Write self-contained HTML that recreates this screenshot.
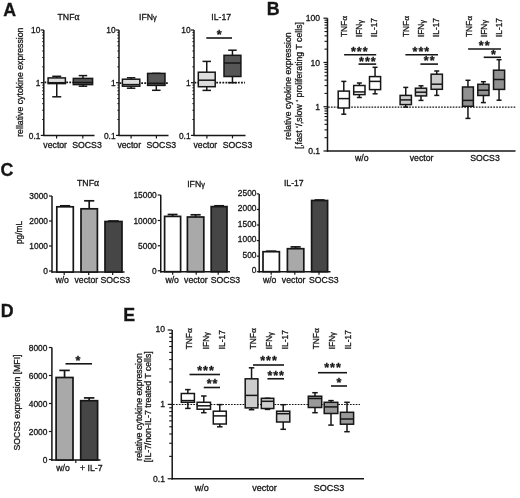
<!DOCTYPE html>
<html><head><meta charset="utf-8"><style>
html,body{margin:0;padding:0;background:#fff;}
svg{display:block;will-change:transform;}
text{font-family:"Liberation Sans",sans-serif;stroke:#161616;stroke-width:0.3px;}
</style></head><body>
<svg width="520" height="498" viewBox="0 0 520 498">
<rect width="520" height="498" fill="#fff"/>
<text x="3.3" y="15.5" font-size="17.8" text-anchor="start" font-weight="bold" fill="#161616" stroke="#161616" stroke-width="0.35">A</text>
<text x="68.5" y="19.7" font-size="8.7" text-anchor="middle" fill="#161616">TNF<tspan font-family="Liberation Serif" font-size="110%">&#945;</tspan></text>
<line x1="43.8" y1="30" x2="43.8" y2="136.1" stroke="#161616" stroke-width="1.5"/>
<line x1="43.099999999999994" y1="135.4" x2="94.5" y2="135.4" stroke="#161616" stroke-width="1.5"/>
<line x1="43.8" y1="135.4" x2="40.8" y2="135.4" stroke="#161616" stroke-width="1.2"/>
<line x1="43.8" y1="119.5357192285082" x2="42.199999999999996" y2="119.5357192285082" stroke="#161616" stroke-width="1.0"/>
<line x1="43.8" y1="110.2557098762738" x2="42.199999999999996" y2="110.2557098762738" stroke="#161616" stroke-width="1.0"/>
<line x1="43.8" y1="103.6714384570164" x2="42.199999999999996" y2="103.6714384570164" stroke="#161616" stroke-width="1.0"/>
<line x1="43.8" y1="98.56428077149181" x2="42.199999999999996" y2="98.56428077149181" stroke="#161616" stroke-width="1.0"/>
<line x1="43.8" y1="94.39142910478199" x2="42.199999999999996" y2="94.39142910478199" stroke="#161616" stroke-width="1.0"/>
<line x1="43.8" y1="90.86333329124867" x2="42.199999999999996" y2="90.86333329124867" stroke="#161616" stroke-width="1.0"/>
<line x1="43.8" y1="87.80715768552457" x2="42.199999999999996" y2="87.80715768552457" stroke="#161616" stroke-width="1.0"/>
<line x1="43.8" y1="85.11141975254759" x2="42.199999999999996" y2="85.11141975254759" stroke="#161616" stroke-width="1.0"/>
<line x1="43.8" y1="82.7" x2="40.8" y2="82.7" stroke="#161616" stroke-width="1.2"/>
<line x1="43.8" y1="66.8357192285082" x2="42.199999999999996" y2="66.8357192285082" stroke="#161616" stroke-width="1.0"/>
<line x1="43.8" y1="57.555709876273795" x2="42.199999999999996" y2="57.555709876273795" stroke="#161616" stroke-width="1.0"/>
<line x1="43.8" y1="50.97143845701638" x2="42.199999999999996" y2="50.97143845701638" stroke="#161616" stroke-width="1.0"/>
<line x1="43.8" y1="45.864280771491806" x2="42.199999999999996" y2="45.864280771491806" stroke="#161616" stroke-width="1.0"/>
<line x1="43.8" y1="41.69142910478198" x2="42.199999999999996" y2="41.69142910478198" stroke="#161616" stroke-width="1.0"/>
<line x1="43.8" y1="38.16333329124867" x2="42.199999999999996" y2="38.16333329124867" stroke="#161616" stroke-width="1.0"/>
<line x1="43.8" y1="35.10715768552458" x2="42.199999999999996" y2="35.10715768552458" stroke="#161616" stroke-width="1.0"/>
<line x1="43.8" y1="32.41141975254758" x2="42.199999999999996" y2="32.41141975254758" stroke="#161616" stroke-width="1.0"/>
<line x1="43.8" y1="30.0" x2="40.8" y2="30.0" stroke="#161616" stroke-width="1.2"/>
<text x="40.4" y="33.1" font-size="8.4" text-anchor="end" fill="#161616">10</text>
<text x="40.4" y="85.6" font-size="8.4" text-anchor="end" fill="#161616">1</text>
<text x="40.4" y="138.5" font-size="8.4" text-anchor="end" fill="#161616">0.1</text>
<text x="147.9" y="19.7" font-size="8.7" text-anchor="middle" fill="#161616">IFN<tspan font-size="85%" dy="0.7">&#947;</tspan></text>
<line x1="119" y1="30" x2="119" y2="136.1" stroke="#161616" stroke-width="1.5"/>
<line x1="118.3" y1="135.4" x2="168.5" y2="135.4" stroke="#161616" stroke-width="1.5"/>
<line x1="119" y1="135.4" x2="116" y2="135.4" stroke="#161616" stroke-width="1.2"/>
<line x1="119" y1="119.5357192285082" x2="117.4" y2="119.5357192285082" stroke="#161616" stroke-width="1.0"/>
<line x1="119" y1="110.2557098762738" x2="117.4" y2="110.2557098762738" stroke="#161616" stroke-width="1.0"/>
<line x1="119" y1="103.6714384570164" x2="117.4" y2="103.6714384570164" stroke="#161616" stroke-width="1.0"/>
<line x1="119" y1="98.56428077149181" x2="117.4" y2="98.56428077149181" stroke="#161616" stroke-width="1.0"/>
<line x1="119" y1="94.39142910478199" x2="117.4" y2="94.39142910478199" stroke="#161616" stroke-width="1.0"/>
<line x1="119" y1="90.86333329124867" x2="117.4" y2="90.86333329124867" stroke="#161616" stroke-width="1.0"/>
<line x1="119" y1="87.80715768552457" x2="117.4" y2="87.80715768552457" stroke="#161616" stroke-width="1.0"/>
<line x1="119" y1="85.11141975254759" x2="117.4" y2="85.11141975254759" stroke="#161616" stroke-width="1.0"/>
<line x1="119" y1="82.7" x2="116" y2="82.7" stroke="#161616" stroke-width="1.2"/>
<line x1="119" y1="66.8357192285082" x2="117.4" y2="66.8357192285082" stroke="#161616" stroke-width="1.0"/>
<line x1="119" y1="57.555709876273795" x2="117.4" y2="57.555709876273795" stroke="#161616" stroke-width="1.0"/>
<line x1="119" y1="50.97143845701638" x2="117.4" y2="50.97143845701638" stroke="#161616" stroke-width="1.0"/>
<line x1="119" y1="45.864280771491806" x2="117.4" y2="45.864280771491806" stroke="#161616" stroke-width="1.0"/>
<line x1="119" y1="41.69142910478198" x2="117.4" y2="41.69142910478198" stroke="#161616" stroke-width="1.0"/>
<line x1="119" y1="38.16333329124867" x2="117.4" y2="38.16333329124867" stroke="#161616" stroke-width="1.0"/>
<line x1="119" y1="35.10715768552458" x2="117.4" y2="35.10715768552458" stroke="#161616" stroke-width="1.0"/>
<line x1="119" y1="32.41141975254758" x2="117.4" y2="32.41141975254758" stroke="#161616" stroke-width="1.0"/>
<line x1="119" y1="30.0" x2="116" y2="30.0" stroke="#161616" stroke-width="1.2"/>
<text x="115.6" y="33.1" font-size="8.4" text-anchor="end" fill="#161616">10</text>
<text x="115.6" y="85.6" font-size="8.4" text-anchor="end" fill="#161616">1</text>
<text x="115.6" y="138.5" font-size="8.4" text-anchor="end" fill="#161616">0.1</text>
<text x="221.2" y="19.7" font-size="8.7" text-anchor="middle" fill="#161616">IL-17</text>
<line x1="194" y1="30" x2="194" y2="136.1" stroke="#161616" stroke-width="1.5"/>
<line x1="193.3" y1="135.4" x2="245.5" y2="135.4" stroke="#161616" stroke-width="1.5"/>
<line x1="194" y1="135.4" x2="191" y2="135.4" stroke="#161616" stroke-width="1.2"/>
<line x1="194" y1="119.5357192285082" x2="192.4" y2="119.5357192285082" stroke="#161616" stroke-width="1.0"/>
<line x1="194" y1="110.2557098762738" x2="192.4" y2="110.2557098762738" stroke="#161616" stroke-width="1.0"/>
<line x1="194" y1="103.6714384570164" x2="192.4" y2="103.6714384570164" stroke="#161616" stroke-width="1.0"/>
<line x1="194" y1="98.56428077149181" x2="192.4" y2="98.56428077149181" stroke="#161616" stroke-width="1.0"/>
<line x1="194" y1="94.39142910478199" x2="192.4" y2="94.39142910478199" stroke="#161616" stroke-width="1.0"/>
<line x1="194" y1="90.86333329124867" x2="192.4" y2="90.86333329124867" stroke="#161616" stroke-width="1.0"/>
<line x1="194" y1="87.80715768552457" x2="192.4" y2="87.80715768552457" stroke="#161616" stroke-width="1.0"/>
<line x1="194" y1="85.11141975254759" x2="192.4" y2="85.11141975254759" stroke="#161616" stroke-width="1.0"/>
<line x1="194" y1="82.7" x2="191" y2="82.7" stroke="#161616" stroke-width="1.2"/>
<line x1="194" y1="66.8357192285082" x2="192.4" y2="66.8357192285082" stroke="#161616" stroke-width="1.0"/>
<line x1="194" y1="57.555709876273795" x2="192.4" y2="57.555709876273795" stroke="#161616" stroke-width="1.0"/>
<line x1="194" y1="50.97143845701638" x2="192.4" y2="50.97143845701638" stroke="#161616" stroke-width="1.0"/>
<line x1="194" y1="45.864280771491806" x2="192.4" y2="45.864280771491806" stroke="#161616" stroke-width="1.0"/>
<line x1="194" y1="41.69142910478198" x2="192.4" y2="41.69142910478198" stroke="#161616" stroke-width="1.0"/>
<line x1="194" y1="38.16333329124867" x2="192.4" y2="38.16333329124867" stroke="#161616" stroke-width="1.0"/>
<line x1="194" y1="35.10715768552458" x2="192.4" y2="35.10715768552458" stroke="#161616" stroke-width="1.0"/>
<line x1="194" y1="32.41141975254758" x2="192.4" y2="32.41141975254758" stroke="#161616" stroke-width="1.0"/>
<line x1="194" y1="30.0" x2="191" y2="30.0" stroke="#161616" stroke-width="1.2"/>
<text x="190.6" y="33.1" font-size="8.4" text-anchor="end" fill="#161616">10</text>
<text x="190.6" y="85.6" font-size="8.4" text-anchor="end" fill="#161616">1</text>
<text x="190.6" y="138.5" font-size="8.4" text-anchor="end" fill="#161616">0.1</text>
<text x="0" y="0" font-size="8.74" text-anchor="middle" transform="translate(23.3 82.2) rotate(-90) scale(1 1.0)" fill="#161616">rellative cytokine expression</text>
<line x1="56.6" y1="135.4" x2="56.6" y2="138.4" stroke="#161616" stroke-width="1.2"/>
<line x1="82.8" y1="135.4" x2="82.8" y2="138.4" stroke="#161616" stroke-width="1.2"/>
<line x1="131.1" y1="135.4" x2="131.1" y2="138.4" stroke="#161616" stroke-width="1.2"/>
<line x1="156.4" y1="135.4" x2="156.4" y2="138.4" stroke="#161616" stroke-width="1.2"/>
<line x1="206.9" y1="135.4" x2="206.9" y2="138.4" stroke="#161616" stroke-width="1.2"/>
<line x1="232.5" y1="135.4" x2="232.5" y2="138.4" stroke="#161616" stroke-width="1.2"/>
<text x="55.2" y="148" font-size="8.7" text-anchor="middle" fill="#161616">vector</text>
<text x="87" y="148" font-size="8.7" text-anchor="middle" fill="#161616">SOCS3</text>
<text x="129.25" y="148" font-size="8.7" text-anchor="middle" fill="#161616">vector</text>
<text x="161.3" y="148" font-size="8.7" text-anchor="middle" fill="#161616">SOCS3</text>
<text x="205.35" y="148" font-size="8.7" text-anchor="middle" fill="#161616">vector</text>
<text x="237.5" y="148" font-size="8.7" text-anchor="middle" fill="#161616">SOCS3</text>
<line x1="44.5" y1="82.4" x2="94" y2="82.4" stroke="#161616" stroke-width="1.8" stroke-dasharray="1.8,1.3"/>
<line x1="119.5" y1="83.1" x2="168" y2="83.1" stroke="#161616" stroke-width="1.8" stroke-dasharray="1.8,1.3"/>
<line x1="194.5" y1="82.7" x2="245" y2="82.7" stroke="#161616" stroke-width="1.8" stroke-dasharray="1.8,1.3"/>
<line x1="56.75" y1="76.3" x2="56.75" y2="77.9" stroke="#161616" stroke-width="1.5"/>
<line x1="56.75" y1="83.6" x2="56.75" y2="96.8" stroke="#161616" stroke-width="1.5"/>
<line x1="52.25" y1="76.3" x2="61.25" y2="76.3" stroke="#161616" stroke-width="1.5"/>
<line x1="52.25" y1="96.8" x2="61.25" y2="96.8" stroke="#161616" stroke-width="1.5"/>
<rect x="48.1" y="77.9" width="17.300000000000004" height="5.699999999999989" fill="#dcdcdc" stroke="#161616" stroke-width="1.5"/>
<line x1="48.1" y1="82.7" x2="65.4" y2="82.7" stroke="#161616" stroke-width="1.5"/>
<line x1="82.94999999999999" y1="75.6" x2="82.94999999999999" y2="78.4" stroke="#161616" stroke-width="1.5"/>
<line x1="82.94999999999999" y1="84.6" x2="82.94999999999999" y2="86.2" stroke="#161616" stroke-width="1.5"/>
<line x1="78.69999999999999" y1="75.6" x2="87.19999999999999" y2="75.6" stroke="#161616" stroke-width="1.5"/>
<line x1="78.69999999999999" y1="86.2" x2="87.19999999999999" y2="86.2" stroke="#161616" stroke-width="1.5"/>
<rect x="73.3" y="78.4" width="19.299999999999997" height="6.199999999999989" fill="#565656" stroke="#161616" stroke-width="1.5"/>
<line x1="73.3" y1="82.5" x2="92.6" y2="82.5" stroke="#161616" stroke-width="1.5"/>
<line x1="131.10000000000002" y1="77.8" x2="131.10000000000002" y2="79.2" stroke="#161616" stroke-width="1.5"/>
<line x1="131.10000000000002" y1="86.2" x2="131.10000000000002" y2="88.2" stroke="#161616" stroke-width="1.5"/>
<line x1="126.85000000000002" y1="77.8" x2="135.35000000000002" y2="77.8" stroke="#161616" stroke-width="1.5"/>
<line x1="126.85000000000002" y1="88.2" x2="135.35000000000002" y2="88.2" stroke="#161616" stroke-width="1.5"/>
<rect x="122.4" y="79.2" width="17.400000000000006" height="7.0" fill="#dcdcdc" stroke="#161616" stroke-width="1.5"/>
<line x1="122.4" y1="84.6" x2="139.8" y2="84.6" stroke="#161616" stroke-width="1.5"/>
<line x1="156.3" y1="73.4" x2="156.3" y2="73.4" stroke="#161616" stroke-width="1.5"/>
<line x1="156.3" y1="85.4" x2="156.3" y2="90.3" stroke="#161616" stroke-width="1.5"/>
<line x1="152.05" y1="73.4" x2="160.55" y2="73.4" stroke="#161616" stroke-width="1.5"/>
<line x1="152.05" y1="90.3" x2="160.55" y2="90.3" stroke="#161616" stroke-width="1.5"/>
<rect x="147.6" y="73.4" width="17.400000000000006" height="12.0" fill="#565656" stroke="#161616" stroke-width="1.5"/>
<line x1="147.6" y1="83.3" x2="165" y2="83.3" stroke="#161616" stroke-width="1.5"/>
<line x1="206.75" y1="61.4" x2="206.75" y2="72.2" stroke="#161616" stroke-width="1.5"/>
<line x1="206.75" y1="86.7" x2="206.75" y2="90.4" stroke="#161616" stroke-width="1.5"/>
<line x1="202.5" y1="61.4" x2="211.0" y2="61.4" stroke="#161616" stroke-width="1.5"/>
<line x1="202.5" y1="90.4" x2="211.0" y2="90.4" stroke="#161616" stroke-width="1.5"/>
<rect x="198.3" y="72.2" width="16.899999999999977" height="14.5" fill="#dcdcdc" stroke="#161616" stroke-width="1.5"/>
<line x1="198.3" y1="80.2" x2="215.2" y2="80.2" stroke="#161616" stroke-width="1.5"/>
<line x1="232.45" y1="50.2" x2="232.45" y2="55.3" stroke="#161616" stroke-width="1.5"/>
<line x1="232.45" y1="76.5" x2="232.45" y2="82.7" stroke="#161616" stroke-width="1.5"/>
<line x1="228.2" y1="50.2" x2="236.7" y2="50.2" stroke="#161616" stroke-width="1.5"/>
<line x1="228.2" y1="82.7" x2="236.7" y2="82.7" stroke="#161616" stroke-width="1.5"/>
<rect x="224" y="55.3" width="16.900000000000006" height="21.200000000000003" fill="#565656" stroke="#161616" stroke-width="1.5"/>
<line x1="224" y1="63" x2="240.9" y2="63" stroke="#161616" stroke-width="1.5"/>
<line x1="206.3" y1="38" x2="232" y2="38" stroke="#161616" stroke-width="1.6"/>
<text x="219.7" y="39.275" font-size="12.5" text-anchor="middle" font-weight="bold" fill="#161616" letter-spacing="1.0">*</text>
<text x="266.8" y="15" font-size="17.8" text-anchor="start" font-weight="bold" fill="#161616" stroke="#161616" stroke-width="0.35">B</text>
<line x1="327.5" y1="18.2" x2="327.5" y2="151.6" stroke="#161616" stroke-width="1.5"/>
<line x1="326.9" y1="151" x2="515.5" y2="151" stroke="#161616" stroke-width="1.5"/>
<line x1="327.5" y1="151.0" x2="323.5" y2="151.0" stroke="#161616" stroke-width="1.2"/>
<line x1="327.5" y1="137.67440552527444" x2="324.5" y2="137.67440552527444" stroke="#161616" stroke-width="1.1"/>
<line x1="327.5" y1="129.87943245774295" x2="324.5" y2="129.87943245774295" stroke="#161616" stroke-width="1.1"/>
<line x1="327.5" y1="124.34881105054886" x2="324.5" y2="124.34881105054886" stroke="#161616" stroke-width="1.1"/>
<line x1="327.5" y1="120.0589278080589" x2="324.5" y2="120.0589278080589" stroke="#161616" stroke-width="1.1"/>
<line x1="327.5" y1="116.55383798301737" x2="324.5" y2="116.55383798301737" stroke="#161616" stroke-width="1.1"/>
<line x1="327.5" y1="113.59032676203556" x2="324.5" y2="113.59032676203556" stroke="#161616" stroke-width="1.1"/>
<line x1="327.5" y1="111.02321657582328" x2="324.5" y2="111.02321657582328" stroke="#161616" stroke-width="1.1"/>
<line x1="327.5" y1="108.75886491548587" x2="324.5" y2="108.75886491548587" stroke="#161616" stroke-width="1.1"/>
<line x1="327.5" y1="106.73333333333332" x2="323.5" y2="106.73333333333332" stroke="#161616" stroke-width="1.2"/>
<line x1="327.5" y1="93.40773885860776" x2="324.5" y2="93.40773885860776" stroke="#161616" stroke-width="1.1"/>
<line x1="327.5" y1="85.61276579107626" x2="324.5" y2="85.61276579107626" stroke="#161616" stroke-width="1.1"/>
<line x1="327.5" y1="80.08214438388218" x2="324.5" y2="80.08214438388218" stroke="#161616" stroke-width="1.1"/>
<line x1="327.5" y1="75.79226114139222" x2="324.5" y2="75.79226114139222" stroke="#161616" stroke-width="1.1"/>
<line x1="327.5" y1="72.2871713163507" x2="324.5" y2="72.2871713163507" stroke="#161616" stroke-width="1.1"/>
<line x1="327.5" y1="69.32366009536888" x2="324.5" y2="69.32366009536888" stroke="#161616" stroke-width="1.1"/>
<line x1="327.5" y1="66.7565499091566" x2="324.5" y2="66.7565499091566" stroke="#161616" stroke-width="1.1"/>
<line x1="327.5" y1="64.4921982488192" x2="324.5" y2="64.4921982488192" stroke="#161616" stroke-width="1.1"/>
<line x1="327.5" y1="62.466666666666654" x2="323.5" y2="62.466666666666654" stroke="#161616" stroke-width="1.2"/>
<line x1="327.5" y1="49.141072191941085" x2="324.5" y2="49.141072191941085" stroke="#161616" stroke-width="1.1"/>
<line x1="327.5" y1="41.34609912440959" x2="324.5" y2="41.34609912440959" stroke="#161616" stroke-width="1.1"/>
<line x1="327.5" y1="35.815477717215515" x2="324.5" y2="35.815477717215515" stroke="#161616" stroke-width="1.1"/>
<line x1="327.5" y1="31.525594474725548" x2="324.5" y2="31.525594474725548" stroke="#161616" stroke-width="1.1"/>
<line x1="327.5" y1="28.020504649684028" x2="324.5" y2="28.020504649684028" stroke="#161616" stroke-width="1.1"/>
<line x1="327.5" y1="25.056993428702214" x2="324.5" y2="25.056993428702214" stroke="#161616" stroke-width="1.1"/>
<line x1="327.5" y1="22.489883242489945" x2="324.5" y2="22.489883242489945" stroke="#161616" stroke-width="1.1"/>
<line x1="327.5" y1="20.225531582152534" x2="324.5" y2="20.225531582152534" stroke="#161616" stroke-width="1.1"/>
<line x1="327.5" y1="18.19999999999999" x2="323.5" y2="18.19999999999999" stroke="#161616" stroke-width="1.2"/>
<text x="320.1" y="21.29999999999999" font-size="8.6" text-anchor="end" fill="#161616">100</text>
<text x="320.1" y="65.56666666666665" font-size="8.6" text-anchor="end" fill="#161616">10</text>
<text x="320.1" y="109.83333333333331" font-size="8.6" text-anchor="end" fill="#161616">1</text>
<text x="320.1" y="154.1" font-size="8.6" text-anchor="end" fill="#161616">0.1</text>
<text x="0" y="0" font-size="8.74" text-anchor="middle" transform="translate(290.8 86) rotate(-90) scale(1 1.0)" fill="#161616">relative cytokine expression</text>
<text x="0" y="0" font-size="8.74" text-anchor="middle" transform="translate(302 85.45) rotate(-90) scale(1 1.0)" fill="#161616">[&#8218;fast &#8216;/&#8218;slow &#8216; proliferating T cells]</text>
<text x="361.8" y="161.2" font-size="8.7" text-anchor="middle" fill="#161616">w/o</text>
<text x="421.6" y="161.2" font-size="8.7" text-anchor="middle" fill="#161616">vector</text>
<text x="485" y="161.2" font-size="8.7" text-anchor="middle" fill="#161616">SOCS3</text>
<line x1="328" y1="107.2" x2="515.5" y2="107.2" stroke="#161616" stroke-width="1.2" stroke-dasharray="1.7,1.2"/>
<line x1="343.79999999999995" y1="81.4" x2="343.79999999999995" y2="91.1" stroke="#161616" stroke-width="1.5"/>
<line x1="343.79999999999995" y1="108" x2="343.79999999999995" y2="114.2" stroke="#161616" stroke-width="1.5"/>
<line x1="341.29999999999995" y1="81.4" x2="346.29999999999995" y2="81.4" stroke="#161616" stroke-width="1.5"/>
<line x1="341.29999999999995" y1="114.2" x2="346.29999999999995" y2="114.2" stroke="#161616" stroke-width="1.5"/>
<rect x="338.2" y="91.1" width="11.199999999999989" height="16.900000000000006" fill="#ffffff" stroke="#161616" stroke-width="1.5"/>
<line x1="338.2" y1="98.6" x2="349.4" y2="98.6" stroke="#161616" stroke-width="1.5"/>
<line x1="359.35" y1="83" x2="359.35" y2="85.5" stroke="#161616" stroke-width="1.5"/>
<line x1="359.35" y1="94.6" x2="359.35" y2="97.5" stroke="#161616" stroke-width="1.5"/>
<line x1="356.85" y1="83" x2="361.85" y2="83" stroke="#161616" stroke-width="1.5"/>
<line x1="356.85" y1="97.5" x2="361.85" y2="97.5" stroke="#161616" stroke-width="1.5"/>
<rect x="353.7" y="85.5" width="11.300000000000011" height="9.099999999999994" fill="#ffffff" stroke="#161616" stroke-width="1.5"/>
<line x1="353.7" y1="91.9" x2="365" y2="91.9" stroke="#161616" stroke-width="1.5"/>
<line x1="375.05" y1="67.3" x2="375.05" y2="76.6" stroke="#161616" stroke-width="1.5"/>
<line x1="375.05" y1="89.6" x2="375.05" y2="93.8" stroke="#161616" stroke-width="1.5"/>
<line x1="372.55" y1="67.3" x2="377.55" y2="67.3" stroke="#161616" stroke-width="1.5"/>
<line x1="372.55" y1="93.8" x2="377.55" y2="93.8" stroke="#161616" stroke-width="1.5"/>
<rect x="369.5" y="76.6" width="11.100000000000023" height="13.0" fill="#ffffff" stroke="#161616" stroke-width="1.5"/>
<line x1="369.5" y1="81.4" x2="380.6" y2="81.4" stroke="#161616" stroke-width="1.5"/>
<line x1="405.75" y1="87.4" x2="405.75" y2="95.4" stroke="#161616" stroke-width="1.5"/>
<line x1="405.75" y1="104.6" x2="405.75" y2="107.1" stroke="#161616" stroke-width="1.5"/>
<line x1="403.25" y1="87.4" x2="408.25" y2="87.4" stroke="#161616" stroke-width="1.5"/>
<line x1="403.25" y1="107.1" x2="408.25" y2="107.1" stroke="#161616" stroke-width="1.5"/>
<rect x="400.1" y="95.4" width="11.299999999999955" height="9.199999999999989" fill="#cbcbcb" stroke="#161616" stroke-width="1.5"/>
<line x1="400.1" y1="99.9" x2="411.4" y2="99.9" stroke="#161616" stroke-width="1.5"/>
<line x1="421.0" y1="85.8" x2="421.0" y2="88.2" stroke="#161616" stroke-width="1.5"/>
<line x1="421.0" y1="95.9" x2="421.0" y2="100.4" stroke="#161616" stroke-width="1.5"/>
<line x1="418.5" y1="85.8" x2="423.5" y2="85.8" stroke="#161616" stroke-width="1.5"/>
<line x1="418.5" y1="100.4" x2="423.5" y2="100.4" stroke="#161616" stroke-width="1.5"/>
<rect x="415.4" y="88.2" width="11.200000000000045" height="7.700000000000003" fill="#cbcbcb" stroke="#161616" stroke-width="1.5"/>
<line x1="415.4" y1="92.2" x2="426.6" y2="92.2" stroke="#161616" stroke-width="1.5"/>
<line x1="436.75" y1="71" x2="436.75" y2="74.2" stroke="#161616" stroke-width="1.5"/>
<line x1="436.75" y1="89.3" x2="436.75" y2="95.4" stroke="#161616" stroke-width="1.5"/>
<line x1="434.25" y1="71" x2="439.25" y2="71" stroke="#161616" stroke-width="1.5"/>
<line x1="434.25" y1="95.4" x2="439.25" y2="95.4" stroke="#161616" stroke-width="1.5"/>
<rect x="431.1" y="74.2" width="11.299999999999955" height="15.099999999999994" fill="#cbcbcb" stroke="#161616" stroke-width="1.5"/>
<line x1="431.1" y1="84.2" x2="442.4" y2="84.2" stroke="#161616" stroke-width="1.5"/>
<line x1="467.95" y1="80.3" x2="467.95" y2="87" stroke="#161616" stroke-width="1.5"/>
<line x1="467.95" y1="106.3" x2="467.95" y2="118.4" stroke="#161616" stroke-width="1.5"/>
<line x1="465.45" y1="80.3" x2="470.45" y2="80.3" stroke="#161616" stroke-width="1.5"/>
<line x1="465.45" y1="118.4" x2="470.45" y2="118.4" stroke="#161616" stroke-width="1.5"/>
<rect x="462.5" y="87" width="10.899999999999977" height="19.299999999999997" fill="#919191" stroke="#161616" stroke-width="1.5"/>
<line x1="462.5" y1="100.4" x2="473.4" y2="100.4" stroke="#161616" stroke-width="1.5"/>
<line x1="483.4" y1="81.7" x2="483.4" y2="84.3" stroke="#161616" stroke-width="1.5"/>
<line x1="483.4" y1="95.5" x2="483.4" y2="102.6" stroke="#161616" stroke-width="1.5"/>
<line x1="480.9" y1="81.7" x2="485.9" y2="81.7" stroke="#161616" stroke-width="1.5"/>
<line x1="480.9" y1="102.6" x2="485.9" y2="102.6" stroke="#161616" stroke-width="1.5"/>
<rect x="477.8" y="84.3" width="11.199999999999989" height="11.200000000000003" fill="#919191" stroke="#161616" stroke-width="1.5"/>
<line x1="477.8" y1="90.2" x2="489" y2="90.2" stroke="#161616" stroke-width="1.5"/>
<line x1="499.05" y1="59.7" x2="499.05" y2="70.2" stroke="#161616" stroke-width="1.5"/>
<line x1="499.05" y1="89.4" x2="499.05" y2="100.2" stroke="#161616" stroke-width="1.5"/>
<line x1="496.55" y1="59.7" x2="501.55" y2="59.7" stroke="#161616" stroke-width="1.5"/>
<line x1="496.55" y1="100.2" x2="501.55" y2="100.2" stroke="#161616" stroke-width="1.5"/>
<rect x="493.5" y="70.2" width="11.100000000000023" height="19.200000000000003" fill="#919191" stroke="#161616" stroke-width="1.5"/>
<line x1="493.5" y1="79.5" x2="504.6" y2="79.5" stroke="#161616" stroke-width="1.5"/>
<text x="0" y="0" font-size="8.4" text-anchor="start" transform="translate(347.20000000000005 37.1) rotate(-90) scale(1 1.0)" fill="#161616">TNF<tspan font-family="Liberation Serif" font-size="110%">&#945;</tspan></text>
<text x="0" y="0" font-size="8.4" text-anchor="start" transform="translate(362.1 37.1) rotate(-90) scale(1 1.0)" fill="#161616">IFN<tspan font-size="85%" dy="0.7">&#947;</tspan></text>
<text x="0" y="0" font-size="8.4" text-anchor="start" transform="translate(376.6 37.1) rotate(-90) scale(1 1.0)" fill="#161616">IL-17</text>
<text x="0" y="0" font-size="8.4" text-anchor="start" transform="translate(409.3 37.1) rotate(-90) scale(1 1.0)" fill="#161616">TNF<tspan font-family="Liberation Serif" font-size="110%">&#945;</tspan></text>
<text x="0" y="0" font-size="8.4" text-anchor="start" transform="translate(424.1 37.1) rotate(-90) scale(1 1.0)" fill="#161616">IFN<tspan font-size="85%" dy="0.7">&#947;</tspan></text>
<text x="0" y="0" font-size="8.4" text-anchor="start" transform="translate(438.6 37.1) rotate(-90) scale(1 1.0)" fill="#161616">IL-17</text>
<text x="0" y="0" font-size="8.4" text-anchor="start" transform="translate(472.1 37.1) rotate(-90) scale(1 1.0)" fill="#161616">TNF<tspan font-family="Liberation Serif" font-size="110%">&#945;</tspan></text>
<text x="0" y="0" font-size="8.4" text-anchor="start" transform="translate(486.6 37.1) rotate(-90) scale(1 1.0)" fill="#161616">IFN<tspan font-size="85%" dy="0.7">&#947;</tspan></text>
<text x="0" y="0" font-size="8.4" text-anchor="start" transform="translate(501.6 37.1) rotate(-90) scale(1 1.0)" fill="#161616">IL-17</text>
<line x1="344.1" y1="54.8" x2="376.2" y2="54.8" stroke="#161616" stroke-width="1.6"/>
<text x="359.8" y="56.175" font-size="12.5" text-anchor="middle" font-weight="bold" fill="#161616" letter-spacing="1.0">***</text>
<line x1="358.5" y1="64.1" x2="376.2" y2="64.1" stroke="#161616" stroke-width="1.6"/>
<text x="367.9" y="65.975" font-size="12.5" text-anchor="middle" font-weight="bold" fill="#161616" letter-spacing="1.0">***</text>
<line x1="405.4" y1="54.8" x2="438" y2="54.8" stroke="#161616" stroke-width="1.6"/>
<text x="421.4" y="55.975" font-size="12.5" text-anchor="middle" font-weight="bold" fill="#161616" letter-spacing="1.0">***</text>
<line x1="420.4" y1="64.1" x2="438" y2="64.1" stroke="#161616" stroke-width="1.6"/>
<text x="429.7" y="65.275" font-size="12.5" text-anchor="middle" font-weight="bold" fill="#161616" letter-spacing="1.0">**</text>
<line x1="468.1" y1="49" x2="501" y2="49" stroke="#161616" stroke-width="1.6"/>
<text x="484.7" y="49.675" font-size="12.5" text-anchor="middle" font-weight="bold" fill="#161616" letter-spacing="1.0">**</text>
<line x1="483.7" y1="57.3" x2="501" y2="57.3" stroke="#161616" stroke-width="1.6"/>
<text x="493.9" y="59.375" font-size="12.5" text-anchor="middle" font-weight="bold" fill="#161616" letter-spacing="1.0">*</text>
<text x="0.5" y="176" font-size="17.8" text-anchor="start" font-weight="bold" fill="#161616" stroke="#161616" stroke-width="0.35">C</text>
<line x1="52" y1="196" x2="52" y2="272.7" stroke="#161616" stroke-width="1.5"/>
<line x1="51.3" y1="272" x2="124.5" y2="272" stroke="#161616" stroke-width="1.5"/>
<line x1="52" y1="196" x2="49" y2="196" stroke="#161616" stroke-width="1.2"/>
<text x="48" y="199.1" font-size="8.4" text-anchor="end" fill="#161616">3000</text>
<line x1="52" y1="221" x2="49" y2="221" stroke="#161616" stroke-width="1.2"/>
<text x="48" y="224.1" font-size="8.4" text-anchor="end" fill="#161616">2000</text>
<line x1="52" y1="246" x2="49" y2="246" stroke="#161616" stroke-width="1.2"/>
<text x="48" y="249.1" font-size="8.4" text-anchor="end" fill="#161616">1000</text>
<line x1="52" y1="271" x2="49" y2="271" stroke="#161616" stroke-width="1.2"/>
<text x="48" y="274.1" font-size="8.4" text-anchor="end" fill="#161616">0</text>
<text x="88" y="186" font-size="8.7" text-anchor="middle" fill="#161616">TNF<tspan font-family="Liberation Serif" font-size="110%">&#945;</tspan></text>
<text x="0" y="0" font-size="8.4" text-anchor="middle" transform="translate(21.8 232.4) rotate(-90) scale(1 1.0)" fill="#161616">pg/mL</text>
<line x1="65.05" y1="206.8" x2="65.05" y2="205.8" stroke="#161616" stroke-width="1.7"/>
<line x1="59.934999999999995" y1="205.8" x2="70.16499999999999" y2="205.8" stroke="#161616" stroke-width="1.7"/>
<rect x="56.8" y="206.8" width="16.5" height="65.19999999999999" fill="#ffffff" stroke="#161616" stroke-width="1.7"/>
<line x1="89.2" y1="208.8" x2="89.2" y2="200.8" stroke="#161616" stroke-width="1.7"/>
<line x1="84.116" y1="200.8" x2="94.284" y2="200.8" stroke="#161616" stroke-width="1.7"/>
<rect x="81" y="208.8" width="16.400000000000006" height="63.19999999999999" fill="#a9a9a9" stroke="#161616" stroke-width="1.7"/>
<line x1="113.5" y1="221.5" x2="113.5" y2="221" stroke="#161616" stroke-width="1.7"/>
<line x1="108.23" y1="221" x2="118.77" y2="221" stroke="#161616" stroke-width="1.7"/>
<rect x="105" y="221.5" width="17" height="50.5" fill="#464646" stroke="#161616" stroke-width="1.7"/>
<line x1="64.2" y1="272" x2="64.2" y2="275" stroke="#161616" stroke-width="1.2"/>
<line x1="88.7" y1="272" x2="88.7" y2="275" stroke="#161616" stroke-width="1.2"/>
<line x1="112.7" y1="272" x2="112.7" y2="275" stroke="#161616" stroke-width="1.2"/>
<text x="62.2" y="283" font-size="8.7" text-anchor="middle" fill="#161616">w/o</text>
<text x="86.3" y="283" font-size="8.7" text-anchor="middle" fill="#161616">vector</text>
<text x="115.3" y="283" font-size="8.7" text-anchor="middle" fill="#161616">SOCS3</text>
<line x1="160.75" y1="195" x2="160.75" y2="272.4" stroke="#161616" stroke-width="1.5"/>
<line x1="160.05" y1="271.7" x2="230" y2="271.7" stroke="#161616" stroke-width="1.5"/>
<line x1="160.75" y1="195" x2="157.75" y2="195" stroke="#161616" stroke-width="1.2"/>
<text x="156.75" y="198.1" font-size="8.4" text-anchor="end" fill="#161616">15000</text>
<line x1="160.75" y1="220.5" x2="157.75" y2="220.5" stroke="#161616" stroke-width="1.2"/>
<text x="156.75" y="223.6" font-size="8.4" text-anchor="end" fill="#161616">10000</text>
<line x1="160.75" y1="245.75" x2="157.75" y2="245.75" stroke="#161616" stroke-width="1.2"/>
<text x="156.75" y="248.85" font-size="8.4" text-anchor="end" fill="#161616">5000</text>
<line x1="160.75" y1="270.75" x2="157.75" y2="270.75" stroke="#161616" stroke-width="1.2"/>
<text x="156.75" y="273.85" font-size="8.4" text-anchor="end" fill="#161616">0</text>
<text x="196" y="186.5" font-size="8.7" text-anchor="middle" fill="#161616">IFN<tspan font-size="85%" dy="0.7">&#947;</tspan></text>
<line x1="172.6" y1="216.4" x2="172.6" y2="214.5" stroke="#161616" stroke-width="1.7"/>
<line x1="167.64" y1="214.5" x2="177.56" y2="214.5" stroke="#161616" stroke-width="1.7"/>
<rect x="164.6" y="216.4" width="16.0" height="55.29999999999998" fill="#ffffff" stroke="#161616" stroke-width="1.7"/>
<line x1="195.60000000000002" y1="217" x2="195.60000000000002" y2="214.8" stroke="#161616" stroke-width="1.7"/>
<line x1="190.51600000000002" y1="214.8" x2="200.68400000000003" y2="214.8" stroke="#161616" stroke-width="1.7"/>
<rect x="187.4" y="217" width="16.400000000000006" height="54.69999999999999" fill="#a9a9a9" stroke="#161616" stroke-width="1.7"/>
<line x1="219.1" y1="206.6" x2="219.1" y2="205.8" stroke="#161616" stroke-width="1.7"/>
<line x1="214.202" y1="205.8" x2="223.998" y2="205.8" stroke="#161616" stroke-width="1.7"/>
<rect x="211.2" y="206.6" width="15.800000000000011" height="65.1" fill="#464646" stroke="#161616" stroke-width="1.7"/>
<line x1="172.7" y1="271.7" x2="172.7" y2="274.7" stroke="#161616" stroke-width="1.2"/>
<line x1="196.2" y1="271.7" x2="196.2" y2="274.7" stroke="#161616" stroke-width="1.2"/>
<line x1="218.2" y1="271.7" x2="218.2" y2="274.7" stroke="#161616" stroke-width="1.2"/>
<text x="172.2" y="283" font-size="8.7" text-anchor="middle" fill="#161616">w/o</text>
<text x="195.9" y="283" font-size="8.7" text-anchor="middle" fill="#161616">vector</text>
<text x="225.4" y="283" font-size="8.7" text-anchor="middle" fill="#161616">SOCS3</text>
<line x1="259.2" y1="193.9" x2="259.2" y2="272.4" stroke="#161616" stroke-width="1.5"/>
<line x1="258.5" y1="271.7" x2="330.5" y2="271.7" stroke="#161616" stroke-width="1.5"/>
<line x1="259.2" y1="271.7" x2="256.8" y2="271.7" stroke="#161616" stroke-width="1.2"/>
<text x="256.5" y="273.3" font-size="8.4" text-anchor="end" fill="#161616">0</text>
<line x1="259.2" y1="256.14" x2="256.8" y2="256.14" stroke="#161616" stroke-width="1.2"/>
<text x="256.5" y="257.74" font-size="8.4" text-anchor="end" fill="#161616">500</text>
<line x1="259.2" y1="240.57999999999998" x2="256.8" y2="240.57999999999998" stroke="#161616" stroke-width="1.2"/>
<text x="256.5" y="242.17999999999998" font-size="8.4" text-anchor="end" fill="#161616">1000</text>
<line x1="259.2" y1="225.01999999999998" x2="256.8" y2="225.01999999999998" stroke="#161616" stroke-width="1.2"/>
<text x="256.5" y="226.61999999999998" font-size="8.4" text-anchor="end" fill="#161616">1500</text>
<line x1="259.2" y1="209.45999999999998" x2="256.8" y2="209.45999999999998" stroke="#161616" stroke-width="1.2"/>
<text x="256.5" y="211.05999999999997" font-size="8.4" text-anchor="end" fill="#161616">2000</text>
<line x1="259.2" y1="193.89999999999998" x2="256.8" y2="193.89999999999998" stroke="#161616" stroke-width="1.2"/>
<text x="256.5" y="195.49999999999997" font-size="8.4" text-anchor="end" fill="#161616">2500</text>
<text x="293.8" y="186" font-size="8.7" text-anchor="middle" fill="#161616">IL-17</text>
<line x1="271.2" y1="251.7" x2="271.2" y2="251.2" stroke="#161616" stroke-width="1.7"/>
<line x1="266.116" y1="251.2" x2="276.284" y2="251.2" stroke="#161616" stroke-width="1.7"/>
<rect x="263" y="251.7" width="16.399999999999977" height="20.0" fill="#ffffff" stroke="#161616" stroke-width="1.7"/>
<line x1="295.6" y1="248.7" x2="295.6" y2="246.9" stroke="#161616" stroke-width="1.7"/>
<line x1="290.516" y1="246.9" x2="300.684" y2="246.9" stroke="#161616" stroke-width="1.7"/>
<rect x="287.4" y="248.7" width="16.400000000000034" height="23.0" fill="#a9a9a9" stroke="#161616" stroke-width="1.7"/>
<line x1="319.6" y1="200.5" x2="319.6" y2="200" stroke="#161616" stroke-width="1.7"/>
<line x1="314.64000000000004" y1="200" x2="324.56" y2="200" stroke="#161616" stroke-width="1.7"/>
<rect x="311.6" y="200.5" width="16.0" height="71.19999999999999" fill="#464646" stroke="#161616" stroke-width="1.7"/>
<line x1="271.2" y1="271.7" x2="271.2" y2="274.7" stroke="#161616" stroke-width="1.2"/>
<line x1="294.8" y1="271.7" x2="294.8" y2="274.7" stroke="#161616" stroke-width="1.2"/>
<line x1="319" y1="271.7" x2="319" y2="274.7" stroke="#161616" stroke-width="1.2"/>
<text x="269.7" y="283" font-size="8.7" text-anchor="middle" fill="#161616">w/o</text>
<text x="293.7" y="283" font-size="8.7" text-anchor="middle" fill="#161616">vector</text>
<text x="323.8" y="283" font-size="8.7" text-anchor="middle" fill="#161616">SOCS3</text>
<text x="0.8" y="317" font-size="17.8" text-anchor="start" font-weight="bold" fill="#161616" stroke="#161616" stroke-width="0.35">D</text>
<line x1="51.9" y1="347.5" x2="51.9" y2="460.7" stroke="#161616" stroke-width="1.5"/>
<line x1="51.199999999999996" y1="460" x2="100.5" y2="460" stroke="#161616" stroke-width="1.5"/>
<line x1="51.9" y1="459.5" x2="48.9" y2="459.5" stroke="#161616" stroke-width="1.2"/>
<text x="47.4" y="462.6" font-size="8.4" text-anchor="end" fill="#161616">0</text>
<line x1="51.9" y1="431.5" x2="48.9" y2="431.5" stroke="#161616" stroke-width="1.2"/>
<text x="47.4" y="434.6" font-size="8.4" text-anchor="end" fill="#161616">2000</text>
<line x1="51.9" y1="403.5" x2="48.9" y2="403.5" stroke="#161616" stroke-width="1.2"/>
<text x="47.4" y="406.6" font-size="8.4" text-anchor="end" fill="#161616">4000</text>
<line x1="51.9" y1="375.5" x2="48.9" y2="375.5" stroke="#161616" stroke-width="1.2"/>
<text x="47.4" y="378.6" font-size="8.4" text-anchor="end" fill="#161616">6000</text>
<line x1="51.9" y1="347.5" x2="48.9" y2="347.5" stroke="#161616" stroke-width="1.2"/>
<text x="47.4" y="350.6" font-size="8.4" text-anchor="end" fill="#161616">8000</text>
<text x="0" y="0" font-size="8.68" text-anchor="middle" transform="translate(19.6 402.5) rotate(-90) scale(1 1.0)" fill="#161616">SOCS3 expression [MFI]</text>
<line x1="64.55" y1="377.5" x2="64.55" y2="370.4" stroke="#161616" stroke-width="1.7"/>
<line x1="59.311" y1="370.4" x2="69.789" y2="370.4" stroke="#161616" stroke-width="1.7"/>
<rect x="56.1" y="377.5" width="16.9" height="82.5" fill="#a9a9a9" stroke="#161616" stroke-width="1.7"/>
<line x1="89.15" y1="400.7" x2="89.15" y2="397.9" stroke="#161616" stroke-width="1.7"/>
<line x1="83.911" y1="397.9" x2="94.38900000000001" y2="397.9" stroke="#161616" stroke-width="1.7"/>
<rect x="80.7" y="400.7" width="16.89999999999999" height="59.30000000000001" fill="#464646" stroke="#161616" stroke-width="1.7"/>
<line x1="75.8" y1="460" x2="75.8" y2="463" stroke="#161616" stroke-width="1.2"/>
<line x1="65.5" y1="363.8" x2="92" y2="363.8" stroke="#161616" stroke-width="1.6"/>
<text x="78.5" y="365.125" font-size="12.5" text-anchor="middle" font-weight="bold" fill="#161616" letter-spacing="1.0">*</text>
<text x="63" y="471" font-size="8.7" text-anchor="middle" fill="#161616">w/o</text>
<text x="91.3" y="471" font-size="8.7" text-anchor="middle" fill="#161616">+ IL-7</text>
<text x="123.3" y="321" font-size="17.8" text-anchor="start" font-weight="bold" fill="#161616" stroke="#161616" stroke-width="0.35">E</text>
<line x1="172.2" y1="330" x2="172.2" y2="479.45" stroke="#161616" stroke-width="1.5"/>
<line x1="171.5" y1="478.75" x2="364" y2="478.75" stroke="#161616" stroke-width="1.5"/>
<line x1="172.2" y1="478.75" x2="167.7" y2="478.75" stroke="#161616" stroke-width="1.2"/>
<line x1="172.2" y1="456.3608940724914" x2="169.2" y2="456.3608940724914" stroke="#161616" stroke-width="1.1"/>
<line x1="172.2" y1="443.2641066802251" x2="169.2" y2="443.2641066802251" stroke="#161616" stroke-width="1.1"/>
<line x1="172.2" y1="433.9717881449828" x2="169.2" y2="433.9717881449828" stroke="#161616" stroke-width="1.1"/>
<line x1="172.2" y1="426.7641059275086" x2="169.2" y2="426.7641059275086" stroke="#161616" stroke-width="1.1"/>
<line x1="172.2" y1="420.8750007527165" x2="169.2" y2="420.8750007527165" stroke="#161616" stroke-width="1.1"/>
<line x1="172.2" y1="415.8958332739397" x2="169.2" y2="415.8958332739397" stroke="#161616" stroke-width="1.1"/>
<line x1="172.2" y1="411.5826822174742" x2="169.2" y2="411.5826822174742" stroke="#161616" stroke-width="1.1"/>
<line x1="172.2" y1="407.7782133604502" x2="169.2" y2="407.7782133604502" stroke="#161616" stroke-width="1.1"/>
<line x1="172.2" y1="404.375" x2="167.7" y2="404.375" stroke="#161616" stroke-width="1.2"/>
<line x1="172.2" y1="381.9858940724914" x2="169.2" y2="381.9858940724914" stroke="#161616" stroke-width="1.1"/>
<line x1="172.2" y1="368.8891066802251" x2="169.2" y2="368.8891066802251" stroke="#161616" stroke-width="1.1"/>
<line x1="172.2" y1="359.5967881449828" x2="169.2" y2="359.5967881449828" stroke="#161616" stroke-width="1.1"/>
<line x1="172.2" y1="352.3891059275086" x2="169.2" y2="352.3891059275086" stroke="#161616" stroke-width="1.1"/>
<line x1="172.2" y1="346.5000007527165" x2="169.2" y2="346.5000007527165" stroke="#161616" stroke-width="1.1"/>
<line x1="172.2" y1="341.5208332739397" x2="169.2" y2="341.5208332739397" stroke="#161616" stroke-width="1.1"/>
<line x1="172.2" y1="337.2076822174742" x2="169.2" y2="337.2076822174742" stroke="#161616" stroke-width="1.1"/>
<line x1="172.2" y1="333.4032133604502" x2="169.2" y2="333.4032133604502" stroke="#161616" stroke-width="1.1"/>
<line x1="172.2" y1="330.0" x2="167.7" y2="330.0" stroke="#161616" stroke-width="1.2"/>
<text x="165" y="331.70000000000005" font-size="8.6" text-anchor="end" fill="#161616">10</text>
<text x="165" y="407.475" font-size="8.6" text-anchor="end" fill="#161616">1</text>
<text x="165" y="481.85" font-size="8.6" text-anchor="end" fill="#161616">0.1</text>
<text x="0" y="0" font-size="8.75" text-anchor="middle" transform="translate(141.8 407) rotate(-90) scale(1 1.0)" fill="#161616">relative cytokine expression</text>
<text x="0" y="0" font-size="8.68" text-anchor="middle" transform="translate(150.6 406.8) rotate(-90) scale(1 1.0)" fill="#161616">[IL-7/non-IL-7 treated T cells]</text>
<line x1="173" y1="404.5" x2="360" y2="404.5" stroke="#161616" stroke-width="1.2" stroke-dasharray="1.7,1.2"/>
<line x1="187.85000000000002" y1="389.6" x2="187.85000000000002" y2="393.5" stroke="#161616" stroke-width="1.5"/>
<line x1="187.85000000000002" y1="402.3" x2="187.85000000000002" y2="408.4" stroke="#161616" stroke-width="1.5"/>
<line x1="185.10000000000002" y1="389.6" x2="190.60000000000002" y2="389.6" stroke="#161616" stroke-width="1.5"/>
<line x1="185.10000000000002" y1="408.4" x2="190.60000000000002" y2="408.4" stroke="#161616" stroke-width="1.5"/>
<rect x="181.3" y="393.5" width="13.099999999999994" height="8.800000000000011" fill="#ffffff" stroke="#161616" stroke-width="1.5"/>
<line x1="181.3" y1="400.6" x2="194.4" y2="400.6" stroke="#161616" stroke-width="1.5"/>
<line x1="203.8" y1="396" x2="203.8" y2="402.3" stroke="#161616" stroke-width="1.5"/>
<line x1="203.8" y1="409.2" x2="203.8" y2="412.7" stroke="#161616" stroke-width="1.5"/>
<line x1="201.05" y1="396" x2="206.55" y2="396" stroke="#161616" stroke-width="1.5"/>
<line x1="201.05" y1="412.7" x2="206.55" y2="412.7" stroke="#161616" stroke-width="1.5"/>
<rect x="197.1" y="402.3" width="13.400000000000006" height="6.899999999999977" fill="#ffffff" stroke="#161616" stroke-width="1.5"/>
<line x1="197.1" y1="405.8" x2="210.5" y2="405.8" stroke="#161616" stroke-width="1.5"/>
<line x1="219.8" y1="404.6" x2="219.8" y2="411.2" stroke="#161616" stroke-width="1.5"/>
<line x1="219.8" y1="424" x2="219.8" y2="426.8" stroke="#161616" stroke-width="1.5"/>
<line x1="217.05" y1="404.6" x2="222.55" y2="404.6" stroke="#161616" stroke-width="1.5"/>
<line x1="217.05" y1="426.8" x2="222.55" y2="426.8" stroke="#161616" stroke-width="1.5"/>
<rect x="213.3" y="411.2" width="13.0" height="12.800000000000011" fill="#ffffff" stroke="#161616" stroke-width="1.5"/>
<line x1="213.3" y1="415.9" x2="226.3" y2="415.9" stroke="#161616" stroke-width="1.5"/>
<line x1="251.54999999999998" y1="367.8" x2="251.54999999999998" y2="378.8" stroke="#161616" stroke-width="1.5"/>
<line x1="251.54999999999998" y1="407.9" x2="251.54999999999998" y2="409.7" stroke="#161616" stroke-width="1.5"/>
<line x1="248.79999999999998" y1="367.8" x2="254.29999999999998" y2="367.8" stroke="#161616" stroke-width="1.5"/>
<line x1="248.79999999999998" y1="409.7" x2="254.29999999999998" y2="409.7" stroke="#161616" stroke-width="1.5"/>
<rect x="245.2" y="378.8" width="12.699999999999989" height="29.099999999999966" fill="#cdcdcd" stroke="#161616" stroke-width="1.5"/>
<line x1="245.2" y1="395.4" x2="257.9" y2="395.4" stroke="#161616" stroke-width="1.5"/>
<line x1="267.55" y1="398.3" x2="267.55" y2="398.3" stroke="#161616" stroke-width="1.5"/>
<line x1="267.55" y1="408.5" x2="267.55" y2="409.4" stroke="#161616" stroke-width="1.5"/>
<line x1="264.8" y1="398.3" x2="270.3" y2="398.3" stroke="#161616" stroke-width="1.5"/>
<line x1="264.8" y1="409.4" x2="270.3" y2="409.4" stroke="#161616" stroke-width="1.5"/>
<rect x="261.3" y="398.3" width="12.5" height="10.199999999999989" fill="#cdcdcd" stroke="#161616" stroke-width="1.5"/>
<line x1="261.3" y1="401.3" x2="273.8" y2="401.3" stroke="#161616" stroke-width="1.5"/>
<line x1="283.20000000000005" y1="404.7" x2="283.20000000000005" y2="411.2" stroke="#161616" stroke-width="1.5"/>
<line x1="283.20000000000005" y1="422" x2="283.20000000000005" y2="429.3" stroke="#161616" stroke-width="1.5"/>
<line x1="280.45000000000005" y1="404.7" x2="285.95000000000005" y2="404.7" stroke="#161616" stroke-width="1.5"/>
<line x1="280.45000000000005" y1="429.3" x2="285.95000000000005" y2="429.3" stroke="#161616" stroke-width="1.5"/>
<rect x="276.6" y="411.2" width="13.199999999999989" height="10.800000000000011" fill="#cdcdcd" stroke="#161616" stroke-width="1.5"/>
<line x1="276.6" y1="413.7" x2="289.8" y2="413.7" stroke="#161616" stroke-width="1.5"/>
<line x1="315.0" y1="392.7" x2="315.0" y2="396.2" stroke="#161616" stroke-width="1.5"/>
<line x1="315.0" y1="407.5" x2="315.0" y2="412.7" stroke="#161616" stroke-width="1.5"/>
<line x1="312.25" y1="392.7" x2="317.75" y2="392.7" stroke="#161616" stroke-width="1.5"/>
<line x1="312.25" y1="412.7" x2="317.75" y2="412.7" stroke="#161616" stroke-width="1.5"/>
<rect x="308.3" y="396.2" width="13.399999999999977" height="11.300000000000011" fill="#999999" stroke="#161616" stroke-width="1.5"/>
<line x1="308.3" y1="398.5" x2="321.7" y2="398.5" stroke="#161616" stroke-width="1.5"/>
<line x1="331.0" y1="400.6" x2="331.0" y2="402.3" stroke="#161616" stroke-width="1.5"/>
<line x1="331.0" y1="413.5" x2="331.0" y2="425.1" stroke="#161616" stroke-width="1.5"/>
<line x1="328.25" y1="400.6" x2="333.75" y2="400.6" stroke="#161616" stroke-width="1.5"/>
<line x1="328.25" y1="425.1" x2="333.75" y2="425.1" stroke="#161616" stroke-width="1.5"/>
<rect x="324.2" y="402.3" width="13.600000000000023" height="11.199999999999989" fill="#999999" stroke="#161616" stroke-width="1.5"/>
<line x1="324.2" y1="406.9" x2="337.8" y2="406.9" stroke="#161616" stroke-width="1.5"/>
<line x1="347.0" y1="402.3" x2="347.0" y2="412.3" stroke="#161616" stroke-width="1.5"/>
<line x1="347.0" y1="424.2" x2="347.0" y2="431.7" stroke="#161616" stroke-width="1.5"/>
<line x1="344.25" y1="402.3" x2="349.75" y2="402.3" stroke="#161616" stroke-width="1.5"/>
<line x1="344.25" y1="431.7" x2="349.75" y2="431.7" stroke="#161616" stroke-width="1.5"/>
<rect x="340.4" y="412.3" width="13.200000000000045" height="11.899999999999977" fill="#999999" stroke="#161616" stroke-width="1.5"/>
<line x1="340.4" y1="419" x2="353.6" y2="419" stroke="#161616" stroke-width="1.5"/>
<text x="0" y="0" font-size="8.4" text-anchor="start" transform="translate(192 349.3) rotate(-90) scale(1 1.0)" fill="#161616">TNF<tspan font-family="Liberation Serif" font-size="110%">&#945;</tspan></text>
<text x="0" y="0" font-size="8.4" text-anchor="start" transform="translate(208.5 349.3) rotate(-90) scale(1 1.0)" fill="#161616">IFN<tspan font-size="85%" dy="0.7">&#947;</tspan></text>
<text x="0" y="0" font-size="8.4" text-anchor="start" transform="translate(225 349.3) rotate(-90) scale(1 1.0)" fill="#161616">IL-17</text>
<text x="0" y="0" font-size="8.4" text-anchor="start" transform="translate(256 349.3) rotate(-90) scale(1 1.0)" fill="#161616">TNF<tspan font-family="Liberation Serif" font-size="110%">&#945;</tspan></text>
<text x="0" y="0" font-size="8.4" text-anchor="start" transform="translate(272 349.3) rotate(-90) scale(1 1.0)" fill="#161616">IFN<tspan font-size="85%" dy="0.7">&#947;</tspan></text>
<text x="0" y="0" font-size="8.4" text-anchor="start" transform="translate(287.5 349.3) rotate(-90) scale(1 1.0)" fill="#161616">IL-17</text>
<text x="0" y="0" font-size="8.4" text-anchor="start" transform="translate(318.5 349.3) rotate(-90) scale(1 1.0)" fill="#161616">TNF<tspan font-family="Liberation Serif" font-size="110%">&#945;</tspan></text>
<text x="0" y="0" font-size="8.4" text-anchor="start" transform="translate(334.5 349.3) rotate(-90) scale(1 1.0)" fill="#161616">IFN<tspan font-size="85%" dy="0.7">&#947;</tspan></text>
<text x="0" y="0" font-size="8.4" text-anchor="start" transform="translate(351 349.3) rotate(-90) scale(1 1.0)" fill="#161616">IL-17</text>
<line x1="189.5" y1="374.5" x2="220" y2="374.5" stroke="#161616" stroke-width="1.6"/>
<text x="206.0" y="375.175" font-size="12.5" text-anchor="middle" font-weight="bold" fill="#161616" letter-spacing="1.0">***</text>
<line x1="203.75" y1="387.5" x2="220" y2="387.5" stroke="#161616" stroke-width="1.6"/>
<text x="212.6" y="388.275" font-size="12.5" text-anchor="middle" font-weight="bold" fill="#161616" letter-spacing="1.0">**</text>
<line x1="253" y1="365" x2="284" y2="365" stroke="#161616" stroke-width="1.6"/>
<text x="269.0" y="365.375" font-size="12.5" text-anchor="middle" font-weight="bold" fill="#161616" letter-spacing="1.0">***</text>
<line x1="267.4" y1="378.75" x2="284" y2="378.75" stroke="#161616" stroke-width="1.6"/>
<text x="276.2" y="379.875" font-size="12.5" text-anchor="middle" font-weight="bold" fill="#161616" letter-spacing="1.0">***</text>
<line x1="318" y1="372.7" x2="347" y2="372.7" stroke="#161616" stroke-width="1.6"/>
<text x="333.0" y="372.375" font-size="12.5" text-anchor="middle" font-weight="bold" fill="#161616" letter-spacing="1.0">***</text>
<line x1="331" y1="386" x2="347" y2="386" stroke="#161616" stroke-width="1.6"/>
<text x="339.5" y="387.125" font-size="12.5" text-anchor="middle" font-weight="bold" fill="#161616" letter-spacing="1.0">*</text>
<text x="201.8" y="490.6" font-size="9.0" text-anchor="middle" fill="#161616">w/o</text>
<text x="264.6" y="490.6" font-size="9.0" text-anchor="middle" fill="#161616">vector</text>
<text x="329" y="490.6" font-size="9.0" text-anchor="middle" fill="#161616">SOCS3</text>
</svg></body></html>
